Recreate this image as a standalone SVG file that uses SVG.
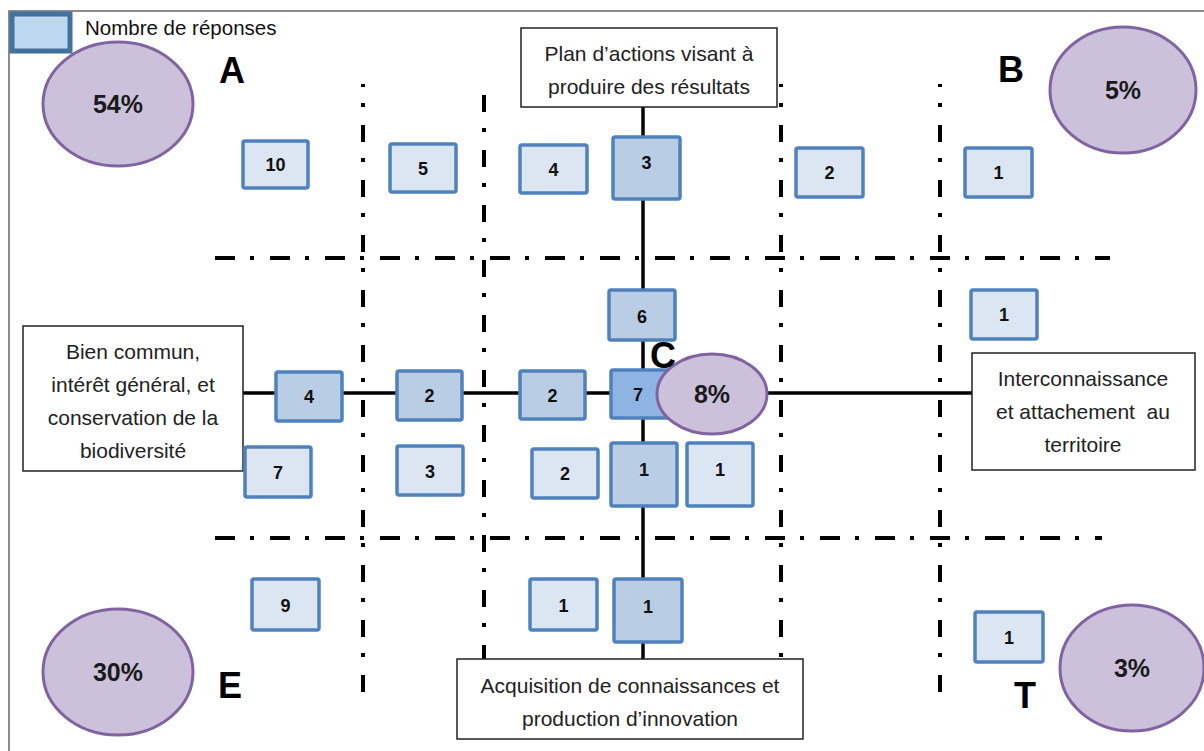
<svg xmlns="http://www.w3.org/2000/svg" width="1204" height="751" viewBox="0 0 1204 751">
<style>
.frame{fill:none;stroke:#8c8c8c;stroke-width:2}
.axis{stroke:#000;stroke-width:3.5;fill:none}
.dd{stroke:#000;stroke-width:4;fill:none}
.ddh{stroke-dasharray:20 15 4 16}
.ddv{stroke-dasharray:17 16 4 18}
.bl rect{fill:#DCE6F2;stroke:#4F81BD;stroke-width:3.5}
.bd rect{fill:#B9CDE5;stroke:#4F81BD;stroke-width:3.5}
.bm rect{fill:#8EB4E3;stroke:#4F81BD;stroke-width:3.5}
.num{font-family:"Liberation Sans",Arial,sans-serif;font-weight:bold;font-size:18px;fill:#111;text-anchor:middle}
.pct ellipse{fill:#CCC1DA;stroke:#8064A2;stroke-width:3}
.pt{font-family:"Liberation Sans",Arial,sans-serif;font-weight:bold;font-size:25px;fill:#1a1a1a;text-anchor:middle}
.let{font-family:"Liberation Sans",Arial,sans-serif;font-weight:bold;font-size:36px;fill:#000}
.lab rect{fill:#fff;stroke:#222;stroke-width:1.5}
.lt{font-family:"Liberation Sans",Arial,sans-serif;font-size:21px;fill:#222;text-anchor:middle}
</style>
<rect width="1204" height="751" fill="#fff"/>
<path class="frame" d="M9,751 V11 H1204"/>

<g id="legend">
<rect x="12" y="14" width="58" height="37" fill="#BDD7EE" stroke="#41719C" stroke-width="5"/>
<text x="85" y="35" font-family="Liberation Sans, Arial, sans-serif" font-size="20.5" fill="#111">Nombre de réponses</text>
</g>

<g id="connectors">
<line class="axis" x1="643" y1="107" x2="643" y2="659"/>
<line class="axis" x1="243" y1="393" x2="972" y2="393"/>
<line class="dd ddh" x1="215" y1="258" x2="1110" y2="258"/>
<line class="dd ddh" x1="215" y1="538" x2="1102" y2="538"/>
<line class="dd ddv" x1="363" y1="84" x2="363" y2="696" stroke-dashoffset="14"/>
<line class="dd ddv" x1="484" y1="95" x2="484" y2="662"/>
<line class="dd ddv" x1="781" y1="84" x2="781" y2="660" stroke-dashoffset="14"/>
<line class="dd ddv" x1="940" y1="84" x2="940" y2="696" stroke-dashoffset="14"/>
</g>

<g id="label-top" class="lab"><rect x="521" y="28" width="256" height="79"/>
<text class="lt" x="649" y="61">Plan d’actions visant à</text>
<text class="lt" x="649" y="94">produire des résultats</text></g>
<g id="label-left" class="lab"><rect x="23" y="326" width="220" height="145"/>
<text class="lt" x="133" y="359">Bien commun,</text>
<text class="lt" x="133" y="392">intérêt général, et</text>
<text class="lt" x="133" y="425">conservation de la</text>
<text class="lt" x="133" y="458">biodiversité</text></g>
<g id="label-right" class="lab"><rect x="972" y="353" width="223" height="117"/>
<text class="lt" x="1083" y="386">Interconnaissance</text>
<text class="lt" x="1083" y="419" xml:space="preserve">et attachement  au</text>
<text class="lt" x="1083" y="452">territoire</text></g>
<g id="label-bottom" class="lab"><rect x="457" y="659" width="346" height="80"/>
<text class="lt" x="630" y="693">Acquisition de connaissances et</text>
<text class="lt" x="630" y="726">production d’innovation</text></g>

<g id="b-10" class="bl"><rect x="243" y="141" width="65" height="47" rx="2"/><text class="num" x="275.5" y="171">10</text></g>
<g id="b-5" class="bl"><rect x="390" y="144" width="66" height="48" rx="2"/><text class="num" x="423" y="175">5</text></g>
<g id="b-4top" class="bl"><rect x="520" y="145" width="67" height="48" rx="2"/><text class="num" x="553.5" y="176">4</text></g>
<g id="b-3top" class="bd"><rect x="613" y="137" width="67" height="62" rx="2"/><text class="num" x="646.5" y="169">3</text></g>
<g id="b-2top" class="bl"><rect x="796" y="148" width="67" height="49" rx="2"/><text class="num" x="829.5" y="179">2</text></g>
<g id="b-1tr" class="bl"><rect x="965" y="148" width="67" height="49" rx="2"/><text class="num" x="998.5" y="179">1</text></g>
<g id="b-6" class="bd"><rect x="609" y="290" width="66" height="50" rx="2"/><text class="num" x="642" y="323">6</text></g>
<g id="b-1r" class="bl"><rect x="971" y="290" width="66" height="49" rx="2"/><text class="num" x="1004" y="321">1</text></g>
<g id="b-4l" class="bd"><rect x="276" y="372" width="66" height="49" rx="2"/><text class="num" x="309" y="403">4</text></g>
<g id="b-2a" class="bd"><rect x="397" y="371" width="65" height="49" rx="2"/><text class="num" x="429.5" y="402">2</text></g>
<g id="b-2b" class="bd"><rect x="520" y="371" width="65" height="48" rx="2"/><text class="num" x="552.5" y="402">2</text></g>
<g id="b-7c" class="bm"><rect x="611" y="370" width="62" height="48" rx="2"/><text class="num" x="638" y="401">7</text></g>
<g id="b-7" class="bl"><rect x="245" y="447" width="66" height="50" rx="2"/><text class="num" x="278" y="479">7</text></g>
<g id="b-3" class="bl"><rect x="397" y="446" width="66" height="49" rx="2"/><text class="num" x="430" y="478">3</text></g>
<g id="b-2c" class="bl"><rect x="532" y="449" width="66" height="49" rx="2"/><text class="num" x="565" y="480">2</text></g>
<g id="b-1c" class="bd"><rect x="611" y="443" width="66" height="63" rx="2"/><text class="num" x="644" y="476">1</text></g>
<g id="b-1d" class="bl"><rect x="687" y="443" width="66" height="63" rx="2"/><text class="num" x="720" y="476">1</text></g>
<g id="b-9" class="bl"><rect x="252" y="579" width="67" height="51" rx="2"/><text class="num" x="285.5" y="612">9</text></g>
<g id="b-1e" class="bl"><rect x="530" y="579" width="67" height="51" rx="2"/><text class="num" x="563.5" y="612">1</text></g>
<g id="b-1f" class="bd"><rect x="614" y="579" width="68" height="63" rx="2"/><text class="num" x="648" y="613">1</text></g>
<g id="b-1g" class="bl"><rect x="975" y="612" width="68" height="50" rx="2"/><text class="num" x="1009" y="644">1</text></g>

<g id="p-54" class="pct"><ellipse cx="118" cy="104" rx="75" ry="62"/><text class="pt" x="118" y="113">54%</text></g>
<g id="p-5" class="pct"><ellipse cx="1123" cy="90" rx="73" ry="63"/><text class="pt" x="1123" y="99">5%</text></g>
<g id="p-8" class="pct"><ellipse cx="712" cy="394" rx="55" ry="40"/><text class="pt" x="712" y="403" font-weight="normal">8%</text></g>
<g id="p-30" class="pct"><ellipse cx="118" cy="672" rx="75" ry="63"/><text class="pt" x="118" y="681">30%</text></g>
<g id="p-3" class="pct"><ellipse cx="1132" cy="668" rx="72" ry="63"/><text class="pt" x="1132" y="677">3%</text></g>

<g id="letters">
<text class="let" x="219" y="83">A</text>
<text class="let" x="998" y="82">B</text>
<text class="let" x="650" y="368">C</text>
<text class="let" x="218" y="698">E</text>
<text class="let" x="1014" y="708">T</text>
</g>
</svg>
